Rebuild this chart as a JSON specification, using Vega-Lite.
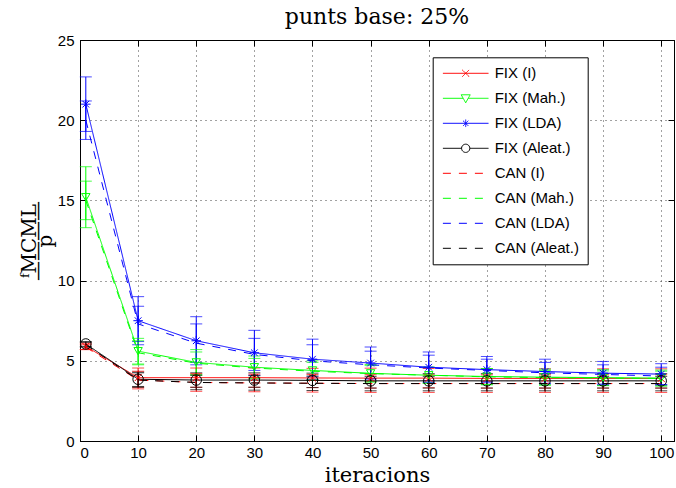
{
  "$schema": "https://vega.github.io/schema/vega-lite/v6.json",
  "width": 594,
  "height": 401,
  "autosize": {"type": "none"},
  "padding": {"left": 80, "top": 40, "right": 2, "bottom": 47},
  "background": "white",
  "title": {"text": "punts base: 25%", "font": "DejaVu Serif", "fontSize": 22, "fontWeight": "normal", "color": "black", "anchor": "middle", "offset": 4},
  "data": {"values": [
    {"serie": "FIX (I)", "x": 1, "y": 5.9, "lo": 5.7, "hi": 6.1},
    {"serie": "FIX (I)", "x": 10, "y": 3.95, "lo": 3.35, "hi": 4.55},
    {"serie": "FIX (I)", "x": 20, "y": 3.95, "lo": 3.35, "hi": 4.55},
    {"serie": "FIX (I)", "x": 30, "y": 3.95, "lo": 3.35, "hi": 4.55},
    {"serie": "FIX (I)", "x": 40, "y": 3.93, "lo": 3.33, "hi": 4.53},
    {"serie": "FIX (I)", "x": 50, "y": 3.92, "lo": 3.3, "hi": 4.54},
    {"serie": "FIX (I)", "x": 60, "y": 3.92, "lo": 3.32, "hi": 4.52},
    {"serie": "FIX (I)", "x": 70, "y": 3.9, "lo": 3.3, "hi": 4.5},
    {"serie": "FIX (I)", "x": 80, "y": 3.9, "lo": 3.3, "hi": 4.5},
    {"serie": "FIX (I)", "x": 90, "y": 3.9, "lo": 3.3, "hi": 4.5},
    {"serie": "FIX (I)", "x": 100, "y": 3.9, "lo": 3.3, "hi": 4.5},
    {"serie": "FIX (Mah.)", "x": 1, "y": 15.2, "lo": 13.3, "hi": 17.1},
    {"serie": "FIX (Mah.)", "x": 10, "y": 5.6, "lo": 4.8, "hi": 6.4},
    {"serie": "FIX (Mah.)", "x": 20, "y": 4.9, "lo": 4.1, "hi": 5.7},
    {"serie": "FIX (Mah.)", "x": 30, "y": 4.6, "lo": 3.9, "hi": 5.3},
    {"serie": "FIX (Mah.)", "x": 40, "y": 4.4, "lo": 3.8, "hi": 5.0},
    {"serie": "FIX (Mah.)", "x": 50, "y": 4.22, "lo": 3.67, "hi": 4.77},
    {"serie": "FIX (Mah.)", "x": 60, "y": 4.1, "lo": 3.6, "hi": 4.6},
    {"serie": "FIX (Mah.)", "x": 70, "y": 4.02, "lo": 3.52, "hi": 4.52},
    {"serie": "FIX (Mah.)", "x": 80, "y": 3.98, "lo": 3.48, "hi": 4.48},
    {"serie": "FIX (Mah.)", "x": 90, "y": 3.95, "lo": 3.45, "hi": 4.45},
    {"serie": "FIX (Mah.)", "x": 100, "y": 3.92, "lo": 3.42, "hi": 4.42},
    {"serie": "FIX (LDA)", "x": 1, "y": 21.0, "lo": 19.3, "hi": 22.7},
    {"serie": "FIX (LDA)", "x": 10, "y": 7.5, "lo": 6.0, "hi": 9.0},
    {"serie": "FIX (LDA)", "x": 20, "y": 6.25, "lo": 4.75, "hi": 7.75},
    {"serie": "FIX (LDA)", "x": 30, "y": 5.5, "lo": 4.1, "hi": 6.9},
    {"serie": "FIX (LDA)", "x": 40, "y": 5.1, "lo": 3.85, "hi": 6.35},
    {"serie": "FIX (LDA)", "x": 50, "y": 4.86, "lo": 3.86, "hi": 5.86},
    {"serie": "FIX (LDA)", "x": 60, "y": 4.6, "lo": 3.65, "hi": 5.55},
    {"serie": "FIX (LDA)", "x": 70, "y": 4.45, "lo": 3.63, "hi": 5.27},
    {"serie": "FIX (LDA)", "x": 80, "y": 4.33, "lo": 3.56, "hi": 5.1},
    {"serie": "FIX (LDA)", "x": 90, "y": 4.23, "lo": 3.5, "hi": 4.96},
    {"serie": "FIX (LDA)", "x": 100, "y": 4.17, "lo": 3.52, "hi": 4.82},
    {"serie": "FIX (Aleat.)", "x": 1, "y": 6.05, "lo": 5.9, "hi": 6.2},
    {"serie": "FIX (Aleat.)", "x": 10, "y": 3.85, "lo": 3.4, "hi": 4.3},
    {"serie": "FIX (Aleat.)", "x": 20, "y": 3.8, "lo": 3.35, "hi": 4.25},
    {"serie": "FIX (Aleat.)", "x": 30, "y": 3.8, "lo": 3.35, "hi": 4.25},
    {"serie": "FIX (Aleat.)", "x": 40, "y": 3.78, "lo": 3.33, "hi": 4.23},
    {"serie": "FIX (Aleat.)", "x": 50, "y": 3.75, "lo": 3.3, "hi": 4.2},
    {"serie": "FIX (Aleat.)", "x": 60, "y": 3.75, "lo": 3.3, "hi": 4.2},
    {"serie": "FIX (Aleat.)", "x": 70, "y": 3.75, "lo": 3.3, "hi": 4.2},
    {"serie": "FIX (Aleat.)", "x": 80, "y": 3.75, "lo": 3.3, "hi": 4.2},
    {"serie": "FIX (Aleat.)", "x": 90, "y": 3.75, "lo": 3.3, "hi": 4.2},
    {"serie": "FIX (Aleat.)", "x": 100, "y": 3.75, "lo": 3.3, "hi": 4.2},
    {"serie": "CAN (I)", "x": 1, "y": 5.85, "lo": 5.7, "hi": 6.0},
    {"serie": "CAN (I)", "x": 10, "y": 3.8, "lo": 3.25, "hi": 4.35},
    {"serie": "CAN (I)", "x": 20, "y": 3.65, "lo": 3.1, "hi": 4.2},
    {"serie": "CAN (I)", "x": 30, "y": 3.62, "lo": 3.07, "hi": 4.17},
    {"serie": "CAN (I)", "x": 40, "y": 3.6, "lo": 3.05, "hi": 4.15},
    {"serie": "CAN (I)", "x": 50, "y": 3.58, "lo": 3.03, "hi": 4.13},
    {"serie": "CAN (I)", "x": 60, "y": 3.58, "lo": 3.03, "hi": 4.13},
    {"serie": "CAN (I)", "x": 70, "y": 3.58, "lo": 3.03, "hi": 4.13},
    {"serie": "CAN (I)", "x": 80, "y": 3.58, "lo": 3.03, "hi": 4.13},
    {"serie": "CAN (I)", "x": 90, "y": 3.58, "lo": 3.03, "hi": 4.13},
    {"serie": "CAN (I)", "x": 100, "y": 3.58, "lo": 3.03, "hi": 4.13},
    {"serie": "CAN (Mah.)", "x": 1, "y": 15.0, "lo": 13.8, "hi": 16.2},
    {"serie": "CAN (Mah.)", "x": 10, "y": 5.5, "lo": 4.75, "hi": 6.25},
    {"serie": "CAN (Mah.)", "x": 20, "y": 4.85, "lo": 4.15, "hi": 5.55},
    {"serie": "CAN (Mah.)", "x": 30, "y": 4.55, "lo": 3.95, "hi": 5.15},
    {"serie": "CAN (Mah.)", "x": 40, "y": 4.35, "lo": 3.8, "hi": 4.9},
    {"serie": "CAN (Mah.)", "x": 50, "y": 4.2, "lo": 3.7, "hi": 4.7},
    {"serie": "CAN (Mah.)", "x": 60, "y": 4.1, "lo": 3.6, "hi": 4.6},
    {"serie": "CAN (Mah.)", "x": 70, "y": 4.0, "lo": 3.5, "hi": 4.5},
    {"serie": "CAN (Mah.)", "x": 80, "y": 3.95, "lo": 3.5, "hi": 4.4},
    {"serie": "CAN (Mah.)", "x": 90, "y": 3.92, "lo": 3.47, "hi": 4.37},
    {"serie": "CAN (Mah.)", "x": 100, "y": 3.9, "lo": 3.45, "hi": 4.35},
    {"serie": "CAN (LDA)", "x": 1, "y": 20.0, "lo": 18.8, "hi": 21.2},
    {"serie": "CAN (LDA)", "x": 10, "y": 7.3, "lo": 6.2, "hi": 8.4},
    {"serie": "CAN (LDA)", "x": 20, "y": 6.1, "lo": 4.9, "hi": 7.3},
    {"serie": "CAN (LDA)", "x": 30, "y": 5.4, "lo": 4.4, "hi": 6.4},
    {"serie": "CAN (LDA)", "x": 40, "y": 5.0, "lo": 4.0, "hi": 6.0},
    {"serie": "CAN (LDA)", "x": 50, "y": 4.75, "lo": 3.9, "hi": 5.6},
    {"serie": "CAN (LDA)", "x": 60, "y": 4.55, "lo": 3.75, "hi": 5.35},
    {"serie": "CAN (LDA)", "x": 70, "y": 4.4, "lo": 3.7, "hi": 5.1},
    {"serie": "CAN (LDA)", "x": 80, "y": 4.25, "lo": 3.6, "hi": 4.9},
    {"serie": "CAN (LDA)", "x": 90, "y": 4.15, "lo": 3.55, "hi": 4.75},
    {"serie": "CAN (LDA)", "x": 100, "y": 4.05, "lo": 3.5, "hi": 4.6},
    {"serie": "CAN (Aleat.)", "x": 1, "y": 6.0, "lo": 5.85, "hi": 6.15},
    {"serie": "CAN (Aleat.)", "x": 10, "y": 3.8, "lo": 3.35, "hi": 4.25},
    {"serie": "CAN (Aleat.)", "x": 20, "y": 3.65, "lo": 3.2, "hi": 4.1},
    {"serie": "CAN (Aleat.)", "x": 30, "y": 3.62, "lo": 3.17, "hi": 4.07},
    {"serie": "CAN (Aleat.)", "x": 40, "y": 3.6, "lo": 3.15, "hi": 4.05},
    {"serie": "CAN (Aleat.)", "x": 50, "y": 3.58, "lo": 3.13, "hi": 4.03},
    {"serie": "CAN (Aleat.)", "x": 60, "y": 3.58, "lo": 3.13, "hi": 4.03},
    {"serie": "CAN (Aleat.)", "x": 70, "y": 3.58, "lo": 3.13, "hi": 4.03},
    {"serie": "CAN (Aleat.)", "x": 80, "y": 3.58, "lo": 3.13, "hi": 4.03},
    {"serie": "CAN (Aleat.)", "x": 90, "y": 3.58, "lo": 3.13, "hi": 4.03},
    {"serie": "CAN (Aleat.)", "x": 100, "y": 3.58, "lo": 3.13, "hi": 4.03}
  ]},
  "layer": [
    {
      "mark": {"type": "rule", "strokeWidth": 1},
      "encoding": {
        "x": {"field": "x", "type": "quantitative", "scale": {"domain": [0, 102.2], "nice": false, "zero": false},
              "axis": {"orient": "top", "labels": false, "title": null, "grid": false, "values": [0,10,20,30,40,50,60,70,80,90,100], "tickSize": -6}},
        "y": {"field": "lo", "type": "quantitative", "scale": {"domain": [0, 25], "nice": false},
              "axis": {"orient": "right", "labels": false, "title": null, "grid": false, "values": [0,5,10,15,20,25], "tickSize": -6}},
        "y2": {"field": "hi"},
        "color": {"field": "serie", "type": "nominal",
                  "scale": {"domain": ["FIX (I)", "FIX (Mah.)", "FIX (LDA)", "FIX (Aleat.)", "CAN (I)", "CAN (Mah.)", "CAN (LDA)", "CAN (Aleat.)"],
                            "range": ["#ff0000", "#00ff00", "#0000ff", "#000000", "#ff0000", "#00ff00", "#0000ff", "#000000"]}}
      }
    },
    {
      "mark": {"type": "tick", "orient": "horizontal", "size": 12, "thickness": 1},
      "encoding": {
        "x": {"field": "x", "type": "quantitative", "axis": null},
        "y": {"field": "lo", "type": "quantitative", "axis": null},
        "color": {"field": "serie", "type": "nominal"}
      }
    },
    {
      "mark": {"type": "tick", "orient": "horizontal", "size": 12, "thickness": 1},
      "encoding": {
        "x": {"field": "x", "type": "quantitative", "axis": null},
        "y": {"field": "hi", "type": "quantitative", "axis": null},
        "color": {"field": "serie", "type": "nominal"}
      }
    },
    {
      "mark": {"type": "line", "strokeWidth": 1},
      "encoding": {
        "x": {"field": "x", "type": "quantitative",
              "axis": {"orient": "bottom", "title": "iteracions", "grid": true, "values": [0,10,20,30,40,50,60,70,80,90,100], "tickSize": -6, "labelPadding": 10, "titlePadding": 4, "titleFontSize": 21}},
        "y": {"field": "y", "type": "quantitative",
              "axis": {"orient": "left", "title": ["ᶠMCML", "————", "p"], "grid": true, "values": [0,5,10,15,20,25], "tickSize": -6, "labelPadding": 12, "titleFontSize": 20, "titleLineHeight": 8, "titlePadding": 2}},
        "color": {"field": "serie", "type": "nominal",
                  "legend": {"title": null,
                             "encode": {"symbols": {"update": {
                               "shape": {"signal": "datum.value === 'FIX (I)' ? 'M-3.04,0L3.04,0M-0.45,-0.45L0.45,0.45M-0.45,0.45L0.45,-0.45' : datum.value === 'FIX (Mah.)' ? 'M-3.04,0L-0.34,0M0.34,0L3.04,0M-0.6,-0.47L0.6,-0.47L0,0.6Z' : datum.value === 'FIX (LDA)' ? 'M-3.04,0L3.04,0M0,-0.5L0,0.5M-0.35,-0.35L0.35,0.35M-0.35,0.35L0.35,-0.35' : datum.value === 'FIX (Aleat.)' ? 'M-3.04,0L-0.55,0M0.55,0L3.04,0M-0.55,0A0.55,0.55,0,1,0,0.55,0A0.55,0.55,0,1,0,-0.55,0' : 'M-3.04,0L3.04,0'"},
                               "stroke": {"scale": "color", "field": "value"},
                               "strokeDash": {"signal": "indexof(datum.value, 'CAN') === 0 ? [7, 11] : [1, 0]"},
                               "fill": {"value": "transparent"},
                               "fillOpacity": {"value": 0},
                               "opacity": {"value": 1},
                               "strokeOpacity": {"value": 1},
                               "strokeWidth": {"value": 1}
                             }}}}},
        "strokeDash": {"field": "serie", "type": "nominal",
                       "scale": {"domain": ["FIX (I)", "FIX (Mah.)", "FIX (LDA)", "FIX (Aleat.)", "CAN (I)", "CAN (Mah.)", "CAN (LDA)", "CAN (Aleat.)"],
                                 "range": [[1, 0], [1, 0], [1, 0], [1, 0], [8, 8], [8, 8], [8, 8], [8, 8]]}}
      }
    },
    {
      "transform": [{"filter": "indexof(datum.serie, 'FIX') === 0"}],
      "mark": {"type": "point", "filled": false, "strokeWidth": 1, "opacity": 1},
      "encoding": {
        "x": {"field": "x", "type": "quantitative", "axis": null},
        "y": {"field": "y", "type": "quantitative", "axis": null},
        "color": {"field": "serie", "type": "nominal"},
        "shape": {"field": "serie", "type": "nominal", "legend": null,
                  "scale": {"domain": ["FIX (I)", "FIX (Mah.)", "FIX (LDA)", "FIX (Aleat.)"],
                            "range": ["M-1,-1L1,1M-1,1L1,-1", "triangle-down", "M-1,0L1,0M0,-1L0,1M-0.7,-0.7L0.7,0.7M-0.7,0.7L0.7,-0.7", "circle"]}},
        "size": {"field": "serie", "type": "nominal", "legend": null,
                 "scale": {"domain": ["FIX (I)", "FIX (Mah.)", "FIX (LDA)", "FIX (Aleat.)"], "range": [50, 110, 70, 85]}}
      }
    }
  ],
  "config": {
    "view": {"stroke": "black", "strokeWidth": 1},
    "axis": {
      "domainColor": "black", "domainWidth": 1,
      "tickColor": "black", "tickWidth": 1,
      "labelFont": "Liberation Sans", "labelFontSize": 15, "labelColor": "black",
      "titleFont": "DejaVu Serif", "titleFontSize": 20, "titleFontWeight": "normal", "titleColor": "black",
      "gridColor": "#444444", "gridDash": [1, 4], "gridOpacity": 1, "gridWidth": 1
    },
    "legend": {
      "orient": "none", "legendX": 352.7, "legendY": 17.3,
      "padding": 8, "strokeColor": "black", "fillColor": "white", "cornerRadius": 0,
      "labelFont": "Liberation Sans", "labelFontSize": 15, "labelColor": "black",
      "symbolSize": 225, "symbolStrokeWidth": 1, "rowPadding": 9,
      "symbolOffset": 17, "labelOffset": 21
    }
  }
}
